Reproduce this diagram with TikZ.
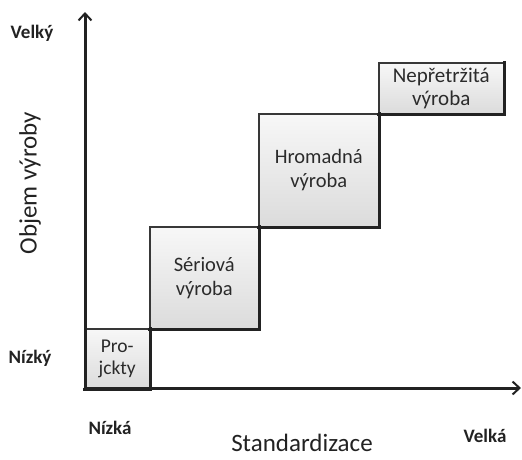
\documentclass[tikz,border=0pt]{standalone}
\usepackage{fontspec}
\setmainfont{Carlito}
\usetikzlibrary{arrows.meta}
\definecolor{axisc}{HTML}{222222}
\definecolor{boxline}{HTML}{383838}
\definecolor{txt}{HTML}{2B2B2B}
\tikzset{
  stepbox/.style={draw=boxline, line width=1.5pt, top color=gray!6, bottom color=gray!28,
    rectangle, anchor=north west, inner sep=0pt, align=center, text=txt, font=\fontsize{20.5}{24}\selectfont},
  boxshadow/.style={draw=axisc, line width=2.6pt, line cap=rect},
  axisline/.style={draw=axisc, line width=3pt, -{Straight Barb[length=7pt,width=13pt,line width=2pt]}},
  lvl/.style={font=\bfseries\fontsize{19}{22}\selectfont, text=axisc},
  atitle/.style={font=\fontsize{25}{28}\selectfont, text=axisc, inner sep=1pt}
}
\begin{document}
\begin{tikzpicture}[x=1pt,y=-1pt]
\useasboundingbox (0,0) rectangle (522,459);
\coordinate (o) at (85,388);
\coordinate (ytip) at (85,12);
\coordinate (xtip) at (521,388);
\node[stepbox, minimum width=65pt, minimum height=60pt, font=\fontsize{19.5}{22}\selectfont] (proj) at (84,328) {Pro-\\jckty};
\node[stepbox, minimum width=109pt, minimum height=102pt] (ser) at (149,226) {Sériová\\výroba};
\node[stepbox, minimum width=120pt, minimum height=113pt] (hrom) at (258,113) {Hromadná\\výroba};
\node[stepbox, minimum width=125pt, minimum height=51pt, font=\fontsize{21}{23}\selectfont] (nep) at (378,62) {Nepřetržitá\\výroba};
\foreach \b in {proj,ser,hrom,nep}
  \draw[boxshadow] (\b.south west) -- (\b.south east) -- (\b.north east);
\draw[axisline] (o) -- (ytip);
\draw[axisline] ([xshift=-1.5pt]o) -- (xtip);
\node[lvl] (velky) at (32,33) {Velký};
\node[lvl] (nizky) at (30,358) {Nízký};
\node[lvl] (nizka) at (110,428) {Nízká};
\node[lvl] (velka) at (485,436) {Velká};
\node[atitle] (std) at (302,443) {Standardizace};
\node[atitle, rotate=90] (obj) at (30,183) {Objem výroby};
\end{tikzpicture}
\end{document}
